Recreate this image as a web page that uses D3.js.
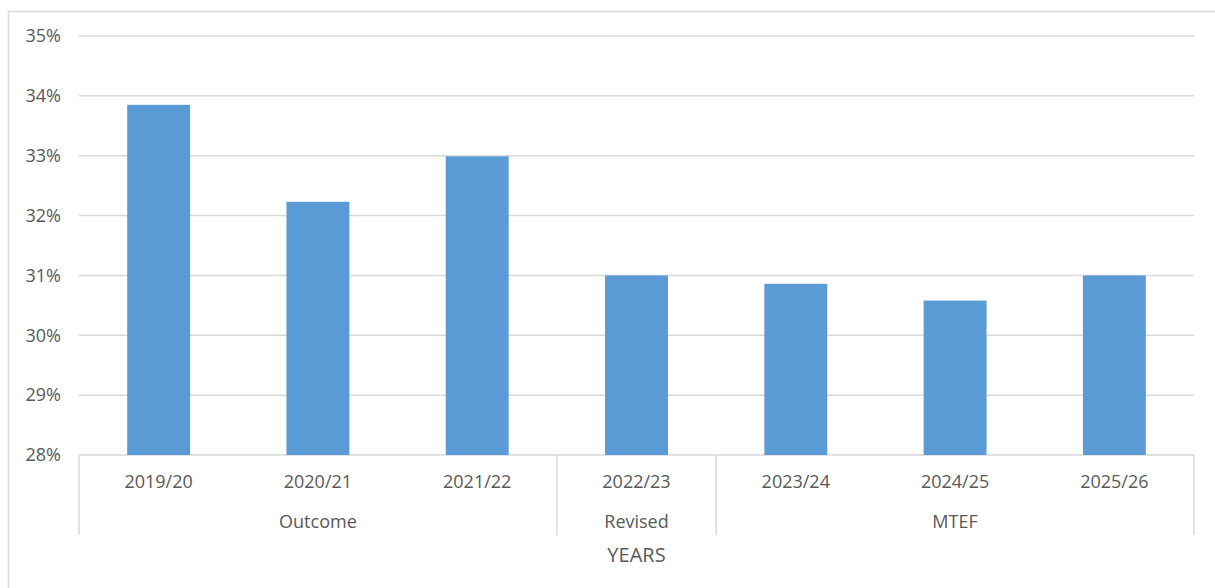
<!DOCTYPE html>
<html>
<head>
<meta charset="utf-8">
<script src="https://cdn.jsdelivr.net/npm/d3@7"></script>
<style>
  body { margin: 0; background: #fff; }
  text { font-family: "Open Sans", "Noto Sans", sans-serif; fill: #595959; }
</style>
</head>
<body>
<script>
var years = ['2019/20', '2020/21', '2021/22', '2022/23', '2023/24', '2024/25', '2025/26'];
var shares = [33.85, 32.23, 32.99, 31.0, 30.86, 30.58, 31.0];
var groups = ['Outcome', 'Outcome', 'Outcome', 'Revised', 'MTEF', 'MTEF', 'MTEF'];
var yTicks = [28, 29, 30, 31, 32, 33, 34, 35];

var width = 1215;
var height = 588;
// plot edges (note: "top" is reserved on window, so use other names)
var plotLeft = 79, plotRight = 1194, plotTop = 36, plotBottom = 455;

var svg = d3.select('body')
  .append('svg')
  .attr('width', width)
  .attr('height', height);

// chart frame (runs off the right and bottom of the picture)
svg.append('rect')
  .attr('x', 8.5).attr('y', 11.5)
  .attr('width', 1220).attr('height', 600)
  .attr('fill', 'none')
  .attr('stroke', '#d9d9d9')
  .attr('stroke-width', 1.5);

var x = d3.scaleBand()
  .domain(years)
  .range([plotLeft, plotRight])
  .paddingInner(0.605)
  .paddingOuter(0.3025);

var y = d3.scaleLinear()
  .domain([28, 35])
  .range([plotBottom, plotTop]);

// gridlines
svg.append('g').selectAll('line')
  .data(yTicks)
  .enter()
  .append('line')
  .attr('x1', plotLeft).attr('x2', plotRight)
  .attr('y1', d => y(d)).attr('y2', d => y(d))
  .attr('stroke', '#d9d9d9')
  .attr('stroke-width', 1.5);

svg.append('g').selectAll('text')
  .data(yTicks)
  .enter()
  .append('text')
  .attr('x', 61)
  .attr('y', d => y(d))
  .attr('dy', '0.35em')
  .attr('text-anchor', 'end')
  .style('font-size', '18px')
  .text(d => d + '%');

// bars
svg.append('g').selectAll('rect')
  .data(years)
  .enter()
  .append('rect')
  .attr('x', d => x(d))
  .attr('width', x.bandwidth())
  .attr('y', (d, i) => y(shares[i]))
  .attr('height', (d, i) => y(28) - y(shares[i]))
  .attr('fill', '#5b9bd5');

// category labels
svg.append('g').selectAll('text')
  .data(years)
  .enter()
  .append('text')
  .attr('x', d => x(d) + x.bandwidth() / 2)
  .attr('y', 482)
  .attr('dy', '0.35em')
  .attr('text-anchor', 'middle')
  .style('font-size', '18px')
  .text(d => d);

// group spans from the groups list
var spans = [];
groups.forEach(function (g, i) {
  var last = spans[spans.length - 1];
  if (last && last.name === g) last.end = i;
  else spans.push({ name: g, start: i, end: i });
});
var step = x.step();
function edge(i) { return plotLeft + i * step; }

var dividers = [0].concat(spans.map(s => s.end + 1));
svg.append('g').selectAll('line')
  .data(dividers)
  .enter()
  .append('line')
  .attr('x1', d => edge(d)).attr('x2', d => edge(d))
  .attr('y1', plotBottom).attr('y2', 535)
  .attr('stroke', '#d9d9d9')
  .attr('stroke-width', 1.5);

svg.append('g').selectAll('text')
  .data(spans)
  .enter()
  .append('text')
  .attr('x', s => (edge(s.start) + edge(s.end + 1)) / 2)
  .attr('y', 522)
  .attr('dy', '0.35em')
  .attr('text-anchor', 'middle')
  .style('font-size', '18px')
  .text(s => s.name);

svg.append('text')
  .attr('x', (edge(3) + edge(4)) / 2)
  .attr('y', 555)
  .attr('dy', '0.35em')
  .attr('text-anchor', 'middle')
  .style('font-size', '20px')
  .text('YEARS');
</script>
</body>
</html>
